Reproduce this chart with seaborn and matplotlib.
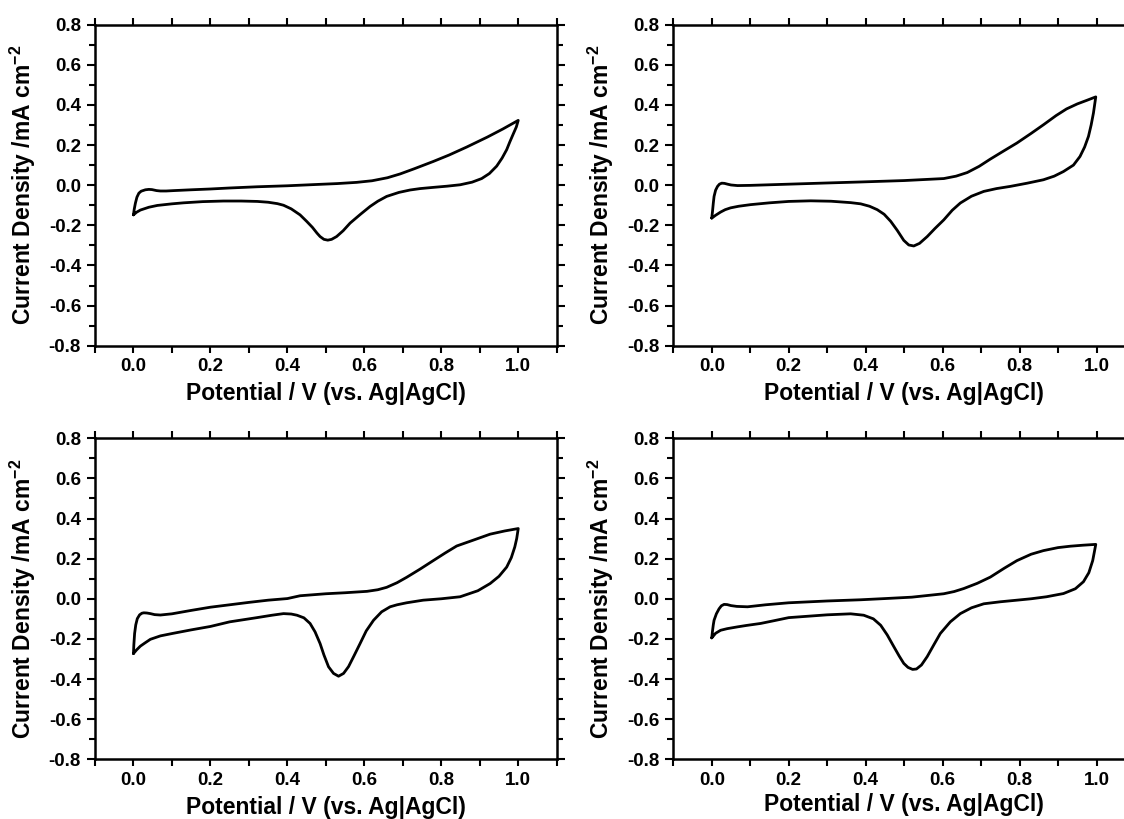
"""Four cyclic voltammograms (current density vs potential) in a 2x2 grid."""

import matplotlib

matplotlib.use("Agg")
import matplotlib.pyplot as plt
import numpy as np
import seaborn as sns
from matplotlib.ticker import MultipleLocator

# -----------------------------------------------------------------------------
# Data: each loop runs 0 V -> 1 V (upper) -> 0 V (lower)
# -----------------------------------------------------------------------------

cv1_potential = [0.0, 0.002, 0.005, 0.009, 0.014, 0.02, 0.031, 0.04, 0.048, 0.06, 0.07, 0.085, 0.105,
                 0.15, 0.2, 0.25, 0.321, 0.4, 0.47, 0.53, 0.58, 0.62, 0.66, 0.693, 0.73, 0.779,
                 0.82, 0.866, 0.92, 0.96, 1.0,
                 0.995, 0.987, 0.978, 0.97, 0.958, 0.944, 0.925, 0.905, 0.88, 0.849, 0.815, 0.779,
                 0.745, 0.719, 0.69, 0.658, 0.635, 0.615, 0.59, 0.563, 0.545, 0.528, 0.515, 0.505,
                 0.495, 0.485, 0.477, 0.465, 0.45, 0.433, 0.41, 0.39, 0.374, 0.35, 0.322, 0.28,
                 0.234, 0.18, 0.13, 0.1, 0.062, 0.04, 0.018, 0.008, 0.0]
cv1_current = [-0.148, -0.12, -0.09, -0.06, -0.04, -0.03, -0.023, -0.021, -0.022, -0.027, -0.029, -0.029, -0.027,
               -0.023, -0.019, -0.014, -0.008, -0.003, 0.003, 0.008, 0.014, 0.022, 0.037, 0.056, 0.082, 0.118,
               0.15, 0.19, 0.24, 0.28, 0.323,
               0.29, 0.255, 0.215, 0.177, 0.135, 0.095, 0.058, 0.033, 0.015, 0.002, -0.005, -0.011,
               -0.017, -0.024, -0.036, -0.056, -0.08, -0.106, -0.145, -0.189, -0.227, -0.256, -0.27, -0.274,
               -0.27, -0.256, -0.239, -0.21, -0.18, -0.148, -0.118, -0.1, -0.092, -0.085, -0.081, -0.079,
               -0.079, -0.082, -0.088, -0.093, -0.101, -0.11, -0.124, -0.135, -0.148]

cv2_potential = [0.0, 0.002, 0.004, 0.006, 0.01, 0.015, 0.02, 0.026, 0.033, 0.041, 0.05, 0.067, 0.1,
                 0.2, 0.3, 0.387, 0.5, 0.603, 0.635, 0.664, 0.695, 0.724, 0.76, 0.793, 0.83, 0.862,
                 0.895, 0.922, 0.95, 0.975, 0.998,
                 0.995, 0.992, 0.986, 0.979, 0.969, 0.957, 0.94, 0.914, 0.89, 0.862, 0.82, 0.776,
                 0.74, 0.707, 0.675, 0.646, 0.625, 0.603, 0.58, 0.56, 0.54, 0.525, 0.512, 0.499,
                 0.482, 0.465, 0.448, 0.43, 0.41, 0.387, 0.361, 0.31, 0.257, 0.2, 0.15, 0.101,
                 0.07, 0.049, 0.035, 0.023, 0.01, 0.0]
cv2_current = [-0.164, -0.13, -0.09, -0.056, -0.025, -0.006, 0.005, 0.01, 0.009, 0.005, 0.001, -0.002, -0.001,
               0.005, 0.011, 0.016, 0.023, 0.033, 0.045, 0.063, 0.094, 0.13, 0.172, 0.21, 0.258, 0.301,
               0.347, 0.38, 0.405, 0.423, 0.44,
               0.4, 0.36, 0.3, 0.243, 0.19, 0.143, 0.1, 0.068, 0.045, 0.027, 0.01, -0.006,
               -0.017, -0.031, -0.055, -0.089, -0.125, -0.173, -0.216, -0.256, -0.29, -0.303, -0.298, -0.275,
               -0.225, -0.18, -0.145, -0.122, -0.105, -0.093, -0.087, -0.08, -0.078, -0.081, -0.088, -0.097,
               -0.105, -0.113, -0.122, -0.134, -0.15, -0.164]

cv3_potential = [0.0, 0.001, 0.003, 0.006, 0.01, 0.016, 0.022, 0.027, 0.035, 0.044, 0.055, 0.07, 0.1,
                 0.15, 0.2, 0.25, 0.3, 0.35, 0.4, 0.433, 0.5, 0.55, 0.607, 0.635, 0.658, 0.685, 0.71,
                 0.745, 0.779, 0.81, 0.84, 0.88, 0.927, 0.965, 1.0,
                 0.996, 0.991, 0.982, 0.97, 0.95, 0.927, 0.895, 0.849, 0.8, 0.753, 0.71, 0.685,
                 0.667, 0.645, 0.624, 0.605, 0.589, 0.573, 0.559, 0.546, 0.533, 0.52, 0.507, 0.495,
                 0.485, 0.472, 0.459, 0.443, 0.425, 0.41, 0.39, 0.36, 0.321, 0.25, 0.2, 0.15, 0.101,
                 0.07, 0.044, 0.03, 0.018, 0.008, 0.0]
cv3_current = [-0.273, -0.23, -0.173, -0.13, -0.099, -0.08, -0.072, -0.07, -0.071, -0.074, -0.079, -0.081, -0.075,
               -0.058, -0.042, -0.03, -0.018, -0.007, 0.001, 0.015, 0.025, 0.03, 0.037, 0.045, 0.057, 0.08, 0.107,
               0.148, 0.19, 0.228, 0.263, 0.29, 0.322, 0.338, 0.35,
               0.3, 0.258, 0.205, 0.158, 0.112, 0.076, 0.04, 0.01, 0.0, -0.007, -0.02, -0.03,
               -0.04, -0.065, -0.107, -0.16, -0.223, -0.285, -0.338, -0.372, -0.386, -0.372, -0.339, -0.28,
               -0.223, -0.165, -0.123, -0.095, -0.082, -0.076, -0.074, -0.082, -0.094, -0.115, -0.138, -0.155, -0.173,
               -0.185, -0.202, -0.22, -0.236, -0.255, -0.273]

cv4_potential = [0.0, 0.002, 0.004, 0.006, 0.012, 0.019, 0.025, 0.032, 0.04, 0.05, 0.065, 0.093, 0.14,
                 0.2, 0.3, 0.387, 0.45, 0.52, 0.603, 0.63, 0.655, 0.69, 0.724, 0.76, 0.793, 0.83,
                 0.862, 0.9, 0.932, 0.965, 0.998,
                 0.994, 0.99, 0.98, 0.966, 0.945, 0.914, 0.87, 0.83, 0.793, 0.75, 0.707, 0.675,
                 0.646, 0.62, 0.594, 0.577, 0.56, 0.545, 0.532, 0.522, 0.51, 0.499, 0.487, 0.473,
                 0.456, 0.439, 0.42, 0.395, 0.361, 0.3, 0.2, 0.16, 0.127, 0.09, 0.067, 0.04, 0.023,
                 0.01, 0.0]
cv4_current = [-0.195, -0.16, -0.13, -0.107, -0.075, -0.05, -0.035, -0.028, -0.029, -0.034, -0.038, -0.04, -0.03,
               -0.02, -0.011, -0.005, 0.001, 0.008, 0.025, 0.036, 0.051, 0.077, 0.108, 0.152, 0.19, 0.222,
               0.24, 0.255, 0.262, 0.267, 0.271,
               0.23, 0.19, 0.13, 0.085, 0.05, 0.026, 0.01, 0.0, -0.007, -0.015, -0.025, -0.045,
               -0.074, -0.115, -0.173, -0.23, -0.288, -0.33, -0.35, -0.352, -0.342, -0.322, -0.285, -0.238,
               -0.18, -0.132, -0.1, -0.082, -0.075, -0.08, -0.094, -0.11, -0.123, -0.133, -0.14, -0.149, -0.157,
               -0.172, -0.195]

x_ticks = [0.0, 0.2, 0.4, 0.6, 0.8, 1.0]
y_ticks = [-0.8, -0.6, -0.4, -0.2, 0.0, 0.2, 0.4, 0.6, 0.8]
x_label = "Potential / V (vs. Ag|AgCl)"
y_label = "Current Density /mA cm$^{-2}$"


def style_axis(ax: plt.Axes, xlabelpad: float) -> None:
    ax.set_xlim(-0.1, 1.1)
    ax.set_ylim(-0.8, 0.8)
    ax.set_xticks(x_ticks)
    ax.set_yticks(y_ticks)
    ax.xaxis.set_minor_locator(MultipleLocator(0.1))
    ax.yaxis.set_minor_locator(MultipleLocator(0.1))
    ax.set_xticklabels([f"{v:.1f}" for v in x_ticks])
    ax.set_yticklabels([f"{v:.1f}" for v in y_ticks])
    ax.tick_params(which="both", direction="out", top=True, right=True, width=1.5,
                   labelsize=13.5, pad=4, colors="black")
    ax.tick_params(which="major", length=6)
    ax.tick_params(which="minor", length=4)
    ax.tick_params(axis="x", which="both", length=5)
    for spine in ax.spines.values():
        spine.set_visible(True)
        spine.set_linewidth(1.8)
        spine.set_color("black")
    ax.set_xlabel(x_label, fontsize=16.5, fontweight="bold", labelpad=xlabelpad, color="black")
    ax.set_ylabel(y_label, fontsize=16.5, fontweight="bold", labelpad=8, color="black")
    for lab in ax.get_xticklabels() + ax.get_yticklabels():
        lab.set_fontweight("bold")


def main() -> None:
    sns.set_theme(style="ticks")
    plt.rcParams["font.family"] = ["Liberation Sans", "DejaVu Sans"]
    plt.rcParams["mathtext.fontset"] = "custom"
    plt.rcParams["mathtext.rm"] = "Liberation Sans:bold"
    plt.rcParams["mathtext.default"] = "rm"
    plt.rcParams["text.color"] = "black"

    fig = plt.figure(figsize=(11.24, 8.19), dpi=100)
    w, h = 0.4108, 0.3920
    rects = [
        (0.0845, 0.5779, w, h),
        (0.5990, 0.5779, w, h),
        (0.0845, 0.0729, w, h),
        (0.5990, 0.0729, w, h),
    ]
    series = [
        (cv1_potential, cv1_current, 5),
        (cv2_potential, cv2_current, 5),
        (cv3_potential, cv3_current, 5),
        (cv4_potential, cv4_current, 3),
    ]
    for rect, (xs, ys, pad) in zip(rects, series):
        ax = fig.add_axes(rect)
        sns.lineplot(x=np.asarray(xs), y=np.asarray(ys), sort=False, estimator=None,
                     color="black", linewidth=2.0, ax=ax)
        style_axis(ax, pad)

    fig.savefig("out.png", dpi=100)


if __name__ == "__main__":
    main()
